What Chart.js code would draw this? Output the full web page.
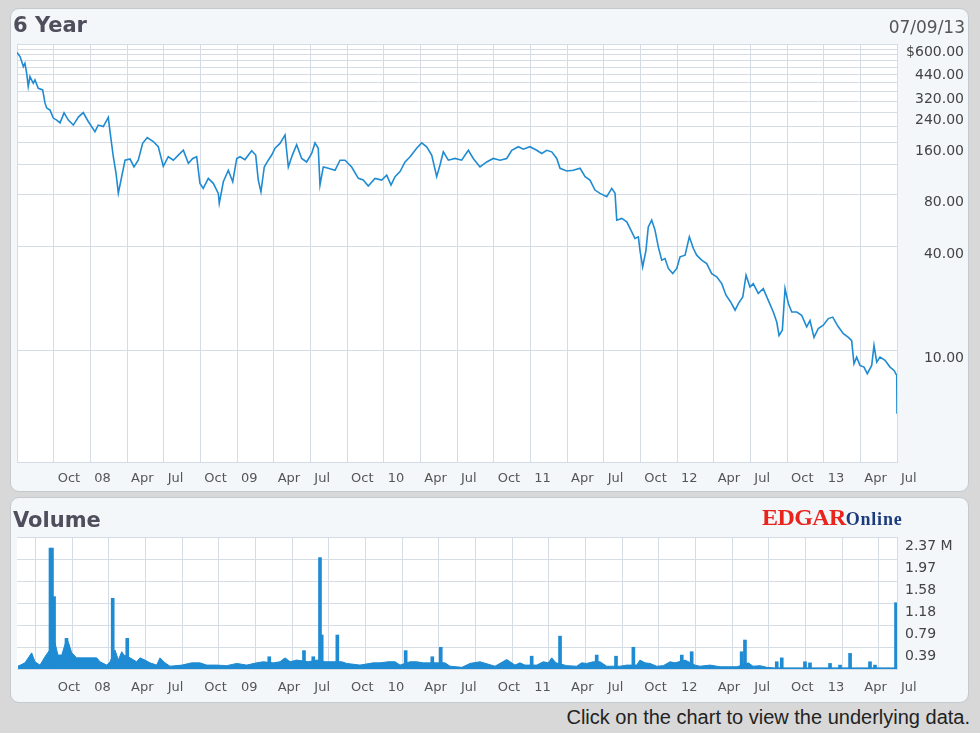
<!DOCTYPE html>
<html><head><meta charset="utf-8">
<script src="https://cdn.jsdelivr.net/npm/chart.js@4.4.0/dist/chart.umd.min.js"></script>
<style>
html,body{margin:0;padding:0;}
body{width:980px;height:733px;background:#d8d8d8;position:relative;overflow:hidden;font-family:"DejaVu Sans",sans-serif;}
.panel{position:absolute;background:#f3f7f9;border:1px solid #c4c9ce;border-radius:9px;box-sizing:border-box;}
#p1{left:10px;top:8px;width:959px;height:484px;}
#p2{left:10px;top:497px;width:959px;height:206px;}
canvas{position:absolute;left:0;}
#c1{top:0;}
#c2{top:497px;}
.title{position:absolute;font:bold 21px "DejaVu Sans";color:#4e4e5c;line-height:21px;}
#t1{left:13px;top:15px;}
#t2{left:13px;top:510px;}
#date{position:absolute;right:15px;top:19px;font:17px "DejaVu Sans";color:#555;line-height:17px;}
#logo{position:absolute;left:762px;top:506px;white-space:nowrap;font-family:"Liberation Serif","DejaVu Serif",serif;font-weight:bold;line-height:22px;}
#logo .e{color:#e8241d;font-size:24px;letter-spacing:-0.6px;}
#logo .o{color:#1c3b7c;font-size:18px;letter-spacing:0.8px;}
#foot{position:absolute;right:10px;top:707px;font:20px "Liberation Sans",Arial,sans-serif;color:#222;line-height:20px;}
</style></head>
<body>
<div class="panel" id="p1"></div>
<div class="panel" id="p2"></div>
<canvas id="c1" width="980" height="492"></canvas>
<canvas id="c2" width="980" height="205"></canvas>
<div class="title" id="t1">6 Year</div>
<div id="date">07/09/13</div>
<div class="title" id="t2">Volume</div>
<div id="logo"><span class="e">EDGAR</span><span class="o">Online</span></div>
<div id="foot">Click on the chart to view the underlying data.</div>
<script>
// ---- Data (months since Jul 2007) ----
const priceMonths = [0.00,0.25,0.52,0.65,0.79,0.92,1.06,1.33,1.47,1.74,2.10,2.29,2.43,2.70,2.97,3.25,3.52,3.85,4.20,4.61,5.02,5.42,5.83,6.38,6.65,7.06,7.47,7.61,7.88,8.10,8.29,8.48,8.84,9.25,9.57,9.92,10.28,10.66,11.15,11.56,11.97,12.38,12.79,13.20,13.61,14.02,14.38,14.70,14.97,15.24,15.65,16.06,16.47,16.55,16.88,17.29,17.65,17.98,18.25,18.65,19.20,19.53,19.74,19.96,20.23,20.56,20.84,21.11,21.52,21.93,22.20,22.53,22.88,23.29,23.70,24.11,24.38,24.65,24.79,25.06,25.47,26.02,26.43,26.84,27.38,27.93,28.33,28.74,29.29,29.84,30.25,30.60,30.93,31.34,31.75,32.16,32.70,33.11,33.52,33.93,34.34,34.61,34.88,35.29,35.84,36.38,36.93,37.33,37.88,38.43,38.97,39.52,40.07,40.48,41.02,41.43,41.97,42.52,42.93,43.34,43.75,44.16,44.43,44.98,45.52,46.07,46.48,46.88,47.29,47.70,48.25,48.66,48.93,49.07,49.48,49.89,50.30,50.56,50.84,50.97,51.19,51.46,51.65,51.93,52.20,52.47,52.75,53.02,53.29,53.65,53.98,54.25,54.66,55.01,55.34,55.61,56.02,56.43,56.84,57.25,57.66,58.01,58.39,58.75,59.02,59.38,59.65,59.97,60.24,60.65,61.06,61.47,61.88,62.16,62.35,62.62,62.84,63.11,63.39,63.80,64.20,64.61,64.88,65.21,65.56,65.97,66.38,66.74,67.20,67.61,68.02,68.29,68.48,68.70,68.97,69.30,69.57,69.93,70.12,70.34,70.61,71.02,71.43,71.76,71.98,72.00];
const prices = [535,507,444,464,406,340,388,355,371,332,325,273,255,248,223,217,209,239,217,203,226,240,213,186,203,199,225,186,133,107,81.8,95.2,127,129,116,127,159,172,163,152,117,133,127,136,145,122,130,133,93.2,87.1,99.6,93.2,81.5,71.3,95.2,111,95.2,130,133,128,144,136,97.4,83.2,116,127,136,149,159,178,116,136,156,130,124,139,160,149,91.1,116,114,111,127,127,116,99.6,97.4,89.8,99.6,97.4,104,91.1,102,109,124,133,149,160,152,136,102,119,142,127,130,127,145,130,116,124,130,127,130,145,152,147,152,145,139,145,142,130,114,110,111,114,102,97.4,85.2,81.5,77.9,87.1,81.5,57.0,58.3,55.7,48.7,44.6,45.6,38.1,30.5,38.1,52.1,57.0,49.9,39.9,33.4,34.1,29.9,27.9,29.9,34.9,35.7,45.6,39.0,35.7,33.4,31.9,27.9,26.7,24.4,20.9,19.1,17.1,18.7,20.4,27.3,23.3,24.4,21.4,22.8,19.5,16.7,14.6,12.2,13.1,22.8,18.7,16.7,16.7,16.0,13.7,14.9,11.9,13.4,14.0,15.3,15.6,13.7,12.5,11.9,11.4,8.37,9.14,8.18,8.00,7.32,8.18,10.7,8.55,9.14,8.75,8.00,7.65,7.16,4.29];

// volume (millions): low-level floor and single-day spikes
const volMonths = [0.08,0.65,1.20,1.47,1.88,2.29,2.54,3.11,3.35,3.66,4.01,4.17,4.48,4.88,5.40,5.97,6.52,6.79,7.34,7.61,8.02,8.29,8.57,8.75,9.25,9.79,10.06,10.47,10.88,11.43,11.70,12.11,12.52,13.50,14.29,14.97,15.52,16.34,17.16,17.98,18.79,19.61,20.15,20.97,21.52,21.93,22.34,22.88,23.83,24.52,25.20,25.61,26.57,26.98,28.06,29.15,29.70,30.38,30.93,31.34,32.16,32.70,33.24,35.02,35.43,36.41,37.06,37.88,39.11,40.07,40.34,40.75,41.15,41.56,42.52,43.06,43.47,43.75,44.10,44.98,45.79,46.20,46.61,47.15,47.70,48.25,49.34,49.89,50.70,50.97,51.38,51.79,52.34,52.88,53.43,53.84,54.66,55.47,55.88,56.70,57.52,58.91,59.84,60.22,60.79,61.34,62.00,72.00];
const volFloor = [0.05,0.11,0.29,0.13,0.07,0.22,0.30,0.47,0.25,0.25,0.50,0.50,0.29,0.20,0.20,0.20,0.20,0.13,0.07,0.13,0.34,0.16,0.31,0.25,0.20,0.13,0.20,0.16,0.11,0.07,0.20,0.11,0.05,0.07,0.11,0.11,0.07,0.07,0.06,0.10,0.07,0.11,0.13,0.11,0.13,0.20,0.13,0.16,0.13,0.16,0.13,0.13,0.13,0.10,0.07,0.11,0.11,0.13,0.13,0.07,0.13,0.13,0.11,0.11,0.05,0.03,0.10,0.13,0.05,0.17,0.13,0.07,0.11,0.07,0.07,0.13,0.11,0.20,0.11,0.06,0.05,0.11,0.10,0.13,0.13,0.05,0.05,0.07,0.07,0.16,0.11,0.10,0.05,0.06,0.13,0.11,0.16,0.07,0.05,0.07,0.04,0.04,0.11,0.05,0.06,0.03,0.02,0.02];
const spikeMonths = [2.74,2.86,3.03,4.05,7.83,9.02,20.64,23.48,24.24,24.79,24.93,26.21,31.80,33.98,34.67,42.11,44.43,47.43,49.01,50.43,54.39,55.20,59.29,59.56,62.16,62.57,64.47,64.88,66.52,67.34,68.16,69.79,70.20,71.92];
const spikeVols = [2.17,2.17,1.30,0.55,1.27,0.55,0.22,0.33,0.22,2.00,0.61,0.61,0.33,0.22,0.39,0.23,0.59,0.25,0.23,0.39,0.25,0.31,0.31,0.52,0.13,0.20,0.13,0.11,0.10,0.07,0.28,0.13,0.07,1.19];

// axes
const quarterTicks = [0,3,6,9,12,15,18,21,24,27,30,33,36,39,42,45,48,51,54,57,60,63,66,69,72];
const quarterLabels = ["","Oct","08","Apr","Jul","Oct","09","Apr","Jul","Oct","10","Apr","Jul","Oct","11","Apr","Jul","Oct","12","Apr","Jul","Oct","13","Apr","Jul"];
const priceGrid = [10,40,80,120,160,200,240,280,320,360,400,440,480,520,560,600];
const priceLabels = ["10.00","40.00","80.00","","160.00","","240.00","","320.00","","","440.00","","","","$600.00"];
const volGrid = [0,0.395,0.79,1.185,1.58,1.975,2.37];
const volLabels = ["","0.39","0.79","1.18","1.58","1.97","2.37 M"];

const BLUE = '#1f8bd2';
const GRID = '#d6dce6';
const bgPlugin = {id:'bg', beforeDraw(chart){const {ctx, chartArea:a}=chart; ctx.save(); ctx.fillStyle='#ffffff'; ctx.fillRect(a.left,a.top,a.right-a.left,a.bottom-a.top); ctx.restore();}};

const xAxis = (h, pad) => ({
  type:'linear', min:0, max:72, offset:false,
  afterBuildTicks: s => { s.ticks = quarterTicks.map(v => ({value:v})); },
  afterFit: s => { s.height = h; },
  grid:{color:GRID, drawTicks:false, lineWidth:1},
  border:{color:GRID},
  ticks:{autoSkip:false, maxRotation:0, minRotation:0, align:'start', labelOffset:4, padding:pad,
         color:'#555', font:{family:'DejaVu Sans', size:13}, callback:(v,i)=>quarterLabels[i]}
});

new Chart(document.getElementById('c1'), {
  type:'line',
  data:{datasets:[{data:priceMonths.map((m,i)=>({x:m,y:prices[i]})), borderColor:BLUE, borderWidth:1.6,
         pointRadius:0, tension:0, fill:false}]},
  options:{
    responsive:false, animation:false,
    layout:{padding:{left:17, top:44, right:16, bottom:0}},
    plugins:{legend:{display:false}, tooltip:{enabled:false}},
    scales:{
      x: xAxis(30, 9),
      y:{type:'logarithmic', position:'right', min:2.25, max:600,
         afterBuildTicks: s => { s.ticks = priceGrid.map(v => ({value:v})); },
         afterFit: s => { s.width = 67; },
         grid:{color:GRID, drawTicks:false}, border:{color:GRID},
         ticks:{crossAlign:'far', padding:6, labelOffset:8, color:'#444', font:{family:'DejaVu Sans', size:14},
                callback:(v,i)=>priceLabels[i]}}
    }
  },
  plugins:[bgPlugin]
});

new Chart(document.getElementById('c2'), {
  type:'line',
  data:{datasets:[
    {type:'line', data:volMonths.map((m,i)=>({x:m,y:volFloor[i]})), borderColor:BLUE, backgroundColor:BLUE,
     borderWidth:1, pointRadius:0, tension:0, fill:'origin', order:2},
    {type:'bar', data:spikeMonths.map((m,i)=>({x:m,y:spikeVols[i]})), backgroundColor:BLUE, borderWidth:0,
     barThickness:3, order:1}
  ]},
  options:{
    responsive:false, animation:false,
    layout:{padding:{left:17, top:40, right:0, bottom:0}},
    plugins:{legend:{display:false}, tooltip:{enabled:false}},
    scales:{
      x: xAxis(33, 11),
      y:{type:'linear', position:'right', min:0, max:2.37,
         afterBuildTicks: s => { s.ticks = volGrid.map(v => ({value:v})); },
         afterFit: s => { s.width = 83; },
         grid:{color:GRID, drawTicks:false}, border:{color:GRID},
         ticks:{crossAlign:'near', padding:8, labelOffset:9, color:'#444', font:{family:'DejaVu Sans', size:14},
                callback:(v,i)=>volLabels[i]}}
    }
  },
  plugins:[bgPlugin]
});
</script>
</body></html>
